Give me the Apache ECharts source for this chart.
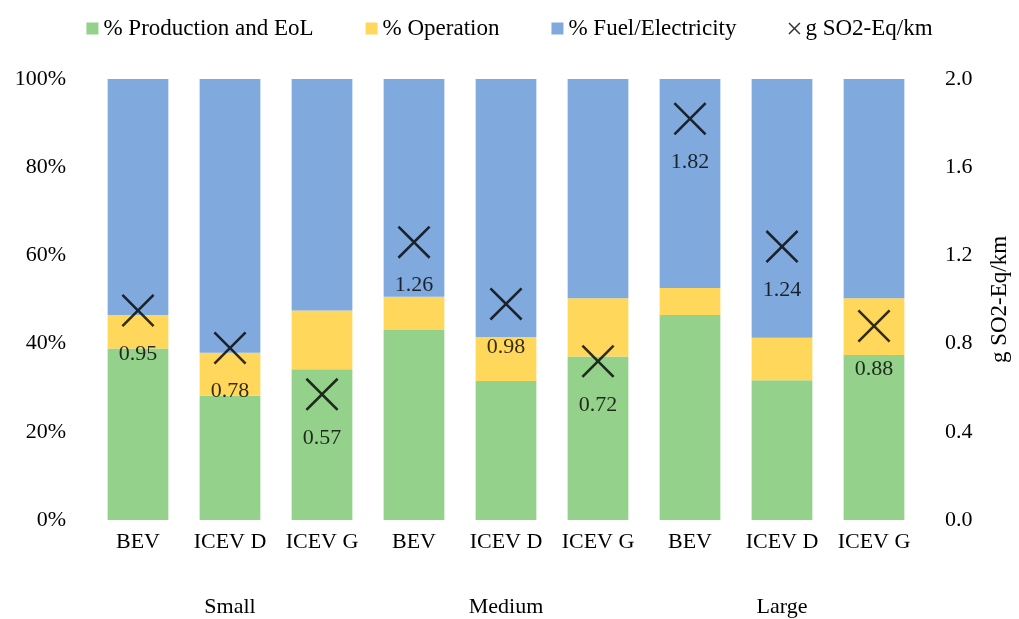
<!DOCTYPE html>
<html>
<head>
<meta charset="utf-8">
<script src="https://cdn.jsdelivr.net/npm/echarts@6/dist/echarts.min.js"></script>
<style>
  html, body { margin: 0; padding: 0; background: #fff; }
  #chart { width: 1019px; height: 619px; }
</style>
</head>
<body>
<div id="chart"></div>
<script>
// categories
const vehicles = ['BEV', 'ICEV D', 'ICEV G', 'BEV', 'ICEV D', 'ICEV G', 'BEV', 'ICEV D', 'ICEV G'];
const sizes = ['Small', 'Medium', 'Large'];

// shares in %
const production = [38.9, 28.2, 34.2, 43.1, 31.5, 37.1, 46.5, 31.7, 37.4];
const operation = [7.6, 9.7, 13.3, 7.5, 10.0, 13.2, 6.1, 9.6, 12.9];
const fuel = [53.5, 62.1, 52.5, 49.4, 58.5, 49.7, 47.4, 58.7, 49.7];

// g SO2-Eq/km
const so2 = [0.95, 0.78, 0.57, 1.26, 0.98, 0.72, 1.82, 1.24, 0.88];

const FONT = '"Liberation Serif", "DejaVu Serif", serif';

// X marker as a filled outline
const crossPath = 'path://M0,5.5L5.5,0L50,44.5L94.5,0L100,5.5L55.5,50L100,94.5L94.5,100L50,55.5L5.5,100L0,94.5L44.5,50Z';
const crossLegend = 'path://M0,9L9,0L50,41L91,0L100,9L59,50L100,91L91,100L50,59L9,100L0,91L41,50Z';

const chart = echarts.init(document.getElementById('chart'));

const option = {
  animation: false,
  textStyle: { fontFamily: FONT },
  legend: {
    top: 12,
    left: 'center',
    itemWidth: 12,
    itemHeight: 12,
    itemGap: 52,
    textStyle: { fontFamily: FONT, fontSize: 23, color: '#000' },
    data: [
      { name: '% Production and EoL', icon: 'rect' },
      { name: '% Operation', icon: 'rect' },
      { name: '% Fuel/Electricity', icon: 'rect' },
      { name: 'g SO2-Eq/km', icon: crossLegend }
    ]
  },
  grid: { left: 92, right: 99, top: 79, bottom: 99 },
  xAxis: [
    {
      type: 'category',
      data: vehicles,
      axisLine: { show: false },
      axisTick: { show: false },
      axisLabel: { interval: 0, fontFamily: FONT, fontSize: 22, color: '#000', margin: 11 }
    },
    {
      type: 'category',
      data: sizes,
      position: 'bottom',
      axisLine: { show: false },
      axisTick: { show: false },
      axisLabel: { interval: 0, fontFamily: FONT, fontSize: 22, color: '#000', margin: 76 }
    }
  ],
  yAxis: [
    {
      type: 'value',
      min: 0,
      max: 100,
      interval: 20,
      axisLine: { show: false },
      axisTick: { show: false },
      splitLine: { show: false },
      axisLabel: { fontFamily: FONT, fontSize: 22, color: '#000', margin: 26, formatter: '{value}%' }
    },
    {
      type: 'value',
      min: 0,
      max: 2,
      interval: 0.4,
      position: 'right',
      name: 'g SO2-Eq/km',
      nameLocation: 'middle',
      nameRotate: 90,
      nameGap: 68,
      nameTextStyle: { fontFamily: FONT, fontSize: 23, color: '#000' },
      axisLine: { show: false },
      axisTick: { show: false },
      splitLine: { show: false },
      axisLabel: {
        fontFamily: FONT, fontSize: 22, color: '#000', margin: 25,
        formatter: function (v) { return v.toFixed(1); }
      }
    }
  ],
  series: [
    {
      name: '% Production and EoL',
      type: 'bar',
      stack: 'share',
      barCategoryGap: '34%',
      itemStyle: { color: '#94D18A' },
      data: production
    },
    {
      name: '% Operation',
      type: 'bar',
      stack: 'share',
      itemStyle: { color: '#FFD75A' },
      data: operation
    },
    {
      name: '% Fuel/Electricity',
      type: 'bar',
      stack: 'share',
      itemStyle: { color: '#80AADD' },
      data: fuel
    },
    {
      name: 'g SO2-Eq/km',
      type: 'scatter',
      yAxisIndex: 1,
      symbol: crossPath,
      symbolSize: 33,
      itemStyle: { color: '#000' },
      label: {
        show: true,
        position: 'bottom',
        distance: 16,
        fontFamily: FONT,
        fontSize: 22,
        color: '#000',
        formatter: function (p) { return p.value.toFixed(2); }
      },
      z: 5,
      data: so2
    }
  ]
};

chart.setOption(option);
</script>
</body>
</html>
